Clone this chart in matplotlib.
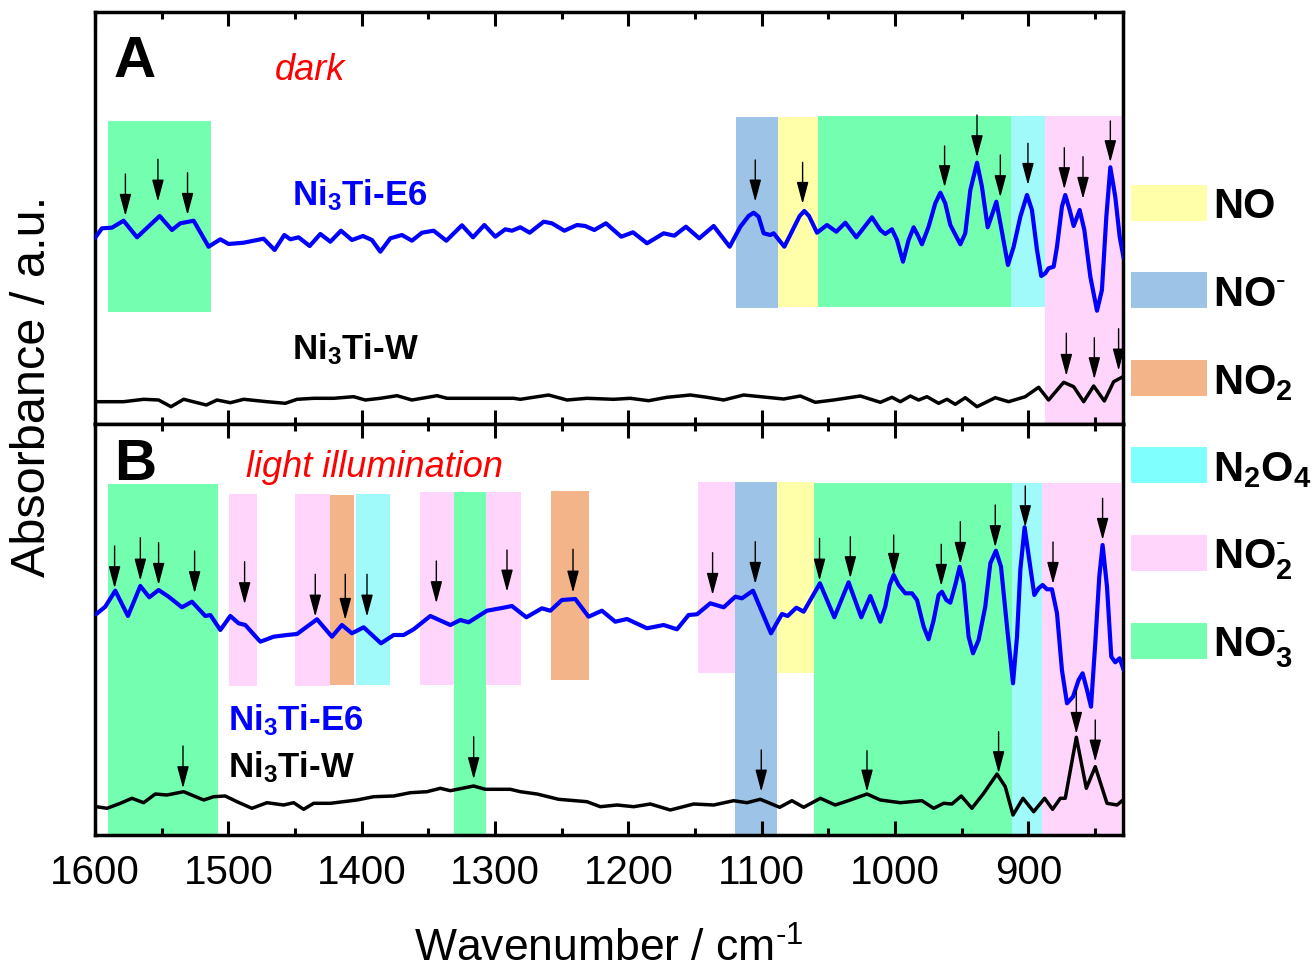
import matplotlib
matplotlib.use("Agg")
import matplotlib.pyplot as plt
from matplotlib.patches import Rectangle
from matplotlib.ticker import MultipleLocator

plt.rcParams["font.family"] = "Liberation Sans"
plt.rcParams["mathtext.fontset"] = "custom"
plt.rcParams["mathtext.rm"] = "Liberation Sans"
plt.rcParams["mathtext.bf"] = "Liberation Sans:bold"
plt.rcParams["mathtext.it"] = "Liberation Sans:italic"

#### spectra (wavenumber in cm-1, absorbance in arbitrary units, offset per panel)

# panel A, dark
a_e6_wn = [1600, 1594.8, 1587.3, 1578.6, 1568.5, 1551.5, 1542.3, 1536, 1526, 1514.8, 1506, 1499.8,
           1488.5, 1473.5, 1465.3, 1458, 1453.5, 1447.3, 1439, 1431, 1423.5, 1415.5, 1407.3, 1399,
           1392.3, 1386, 1378.5, 1369.8, 1362.3, 1354.8, 1346, 1336.5, 1324.8, 1316.5, 1308, 1299.8,
           1292.3, 1287.3, 1281, 1274, 1263.5, 1257.3, 1248, 1238.5, 1232.3, 1225.5, 1216.8, 1205.3,
           1196.5, 1186, 1173.5, 1165.5, 1156.8, 1146.8, 1136, 1124, 1116, 1109.8, 1106, 1102.3,
           1098.5, 1093.5, 1091, 1083, 1071.5, 1068, 1064.5, 1058.5, 1051, 1044, 1037.3, 1029,
           1017.3, 1011, 1007.3, 1002.3, 998.5, 994, 989.8, 986, 983, 979.8, 974.8, 969.8, 966,
           962.3, 958.5, 951, 947.3, 943.5, 938.5, 934.8, 930.5, 927.3, 924, 920.5, 915.3, 911,
           906, 901, 897.3, 893.5, 890.3, 887.3, 884.8, 881, 878.5, 874.8, 872.3, 869, 866,
           861.5, 858, 853.5, 848.5, 844.8, 841.5, 838.5, 834.8, 831.5, 828.5]
a_e6_abs = [186, 195.7, 196.3, 203.3, 186.7, 208, 194, 200.7, 203.3, 177.3, 184.7, 180,
            181.3, 185.3, 174, 189, 184.7, 186.7, 178, 190, 182.3, 193.3, 184, 188,
            184, 172.3, 185.7, 189, 183.3, 191.3, 193.3, 183.3, 198.7, 186.7, 199, 187.3,
            194.7, 193.3, 196.7, 191.3, 202.3, 200.7, 193.3, 199, 198, 194, 200.7, 187.3,
            191.7, 180.7, 190.7, 188.3, 197.3, 185.7, 198, 177.3, 197.3, 208, 211.3, 207.3,
            190.7, 189, 190.7, 177.3, 208, 213, 208, 191.3, 199, 192.3, 201.3, 186.7,
            206.7, 194, 190, 194.7, 184, 162.3, 184, 196.7, 189, 179.7, 197.3, 220.7, 231.3,
            220.7, 199, 179.7, 190.7, 234, 261.3, 237.3, 196.7, 209, 222.3, 197.3, 159, 177.3,
            207.3, 229, 214, 174, 148, 150.7, 155.7, 157.3, 177.3, 217.3, 229, 214, 198,
            214, 194, 147.3, 113.3, 134, 207.3, 256.7, 227.3, 187.3, 165.7]

a_w_wn = [1600, 1578.6, 1563.5, 1552.3, 1543, 1533.5, 1516.5, 1508.5, 1498.5, 1488.5, 1471, 1457.3,
          1448.5, 1436, 1421, 1406, 1397.3, 1386, 1373.5, 1362.3, 1343.5, 1336, 1311, 1286, 1281,
          1259.8, 1246, 1231, 1211, 1198.5, 1184.8, 1171, 1153.5, 1141, 1128.5, 1113.5, 1083.5,
          1071, 1059.8, 1046, 1026, 1011, 1002.3, 996, 988.5, 982.3, 976, 967.3, 961, 954.8,
          947.3, 938.5, 924.8, 914.8, 902.3, 892.3, 884.8, 873.5, 866, 858.5, 851, 843, 836, 829]
a_w_abs = [22.3, 22.3, 24.7, 24, 17.3, 24.7, 19, 24, 21.3, 24.7, 22.3, 20.7,
           24.7, 25.7, 25.7, 27.3, 24, 25.7, 28.3, 24, 28.3, 25.7, 25.7, 25.7, 24.7,
           29, 24, 25.7, 24.7, 25.7, 23.3, 26.7, 29, 26.7, 24, 29, 25,
           28, 21.7, 24, 28, 21.7, 26.7, 22.3, 28, 24, 27.3, 20.7, 24.7, 19.7,
           26.3, 17.3, 26.3, 22.3, 27.3, 36.7, 24, 41.7, 37.3, 22.3, 38, 23, 42.3, 47.3]

# panel B, light illumination
b_e6_wn = [1599, 1592.3, 1584.8, 1575.3, 1566, 1559.3, 1552.3, 1544.8, 1534.8, 1527.3, 1517.3, 1513.5,
           1506, 1498.5, 1492.3, 1487.3, 1476, 1466, 1456, 1448.5, 1433.5, 1422.3, 1414.8, 1407.3,
           1398.5, 1385.5, 1376, 1368.5, 1361, 1348.5, 1333.5, 1326, 1319.8, 1306, 1296, 1287.3,
           1276.5, 1264.8, 1258.5, 1249.8, 1239.8, 1229.8, 1219.8, 1209.8, 1201, 1186, 1173.5,
           1163.5, 1154.8, 1148.5, 1138.5, 1128.5, 1119.8, 1114.8, 1106.5, 1093, 1084.8, 1080.5,
           1074, 1068.5, 1056.3, 1045.5, 1034.8, 1025.3, 1018.5,
           1011, 1007.3, 1004, 1001, 997.3, 992.3, 987.3, 983.5, 978.5, 974.8, 971, 967.3, 964.8,
           961.5, 958.5, 954.8, 951.5, 948.5, 944.8, 941.5, 937.3, 932.3, 928.5, 924.3, 920.5,
           916, 911.5, 908.5, 906, 902.8, 899.3, 895.5, 892.3, 889.3, 886, 882.3, 878.5, 874.8,
           871, 866.5, 862.3, 859.3, 856, 853, 849.8, 846.8, 844.3, 841, 837.8, 834.8, 831.5, 828.5]
b_e6_abs = [221, 228.3, 244.3, 219, 249, 237.7, 245, 238.3, 227.7, 233.3, 219, 220,
            205, 219, 211.7, 210, 193.3, 198.3, 200, 201, 215.7, 198.3, 210, 201.7,
            207.7, 191.7, 200, 200, 205.7, 219, 210, 215, 212.7, 224.3, 226.7, 229,
            217.7, 226.7, 224.3, 235, 236, 218.3, 224.3, 213.3, 216, 206.7, 210,
            205.7, 220, 220.7, 231.7, 227.7, 238.3, 236.7, 244.3, 201.7, 221, 219,
            227.3, 223.3, 251.7, 217.7, 252.7, 217.7, 239,
            213.3, 228.3, 250, 260, 250, 241.7, 241.7, 235, 208.3, 195.7, 215, 240, 243.3,
            235, 232.3, 250, 268.3, 251.7, 198.3, 181.7, 195, 228.3, 271.7, 284.3, 268.3,
            208.3, 151.7, 198.3, 265, 307.7, 275, 240, 246.7, 250, 245.7, 245.7, 221.7, 165,
            131.7, 138.3, 155, 161.7, 145, 128.3, 191.7, 258.3, 290, 248.3, 178.3, 172.7, 176.7, 165]

b_w_wn = [1599, 1591, 1581, 1572.3, 1563.5, 1554.8, 1546, 1533.5, 1518.5, 1511, 1502.3, 1493.5,
          1482.3, 1471, 1458.5, 1451, 1443.5, 1436, 1423.5, 1403.5, 1391, 1376, 1363.5, 1351,
          1341, 1333.5, 1316, 1307.3, 1288.5, 1281, 1268.5, 1252.3, 1231, 1221, 1208.5, 1196,
          1183.5, 1168.5, 1151, 1136, 1121, 1111, 1101, 1086.5, 1077.3, 1068.5, 1056, 1044.8,
          1033.5, 1021, 1011, 996, 979.8, 971, 963.5, 957.3, 950.3, 942.3, 933.5, 923.5, 917.3,
          911.5, 904, 896, 887.8, 881.8, 876, 872.3, 864, 856.5, 849.8, 841, 833.5, 829]
b_w_abs = [28.3, 26.7, 31.7, 36.7, 32.3, 41, 40, 43.3, 35, 38.3, 39, 33.3,
           26.7, 32.3, 30, 32.3, 25.7, 31.7, 31.7, 35, 38.3, 39, 42.3, 43.3,
           46.7, 44.3, 49, 45.7, 45.7, 43.3, 41, 35.7, 33.3, 28.3, 30, 28.3,
           31, 25, 31, 30, 34.3, 32.3, 35.7, 27.7, 34.3, 27.7, 36.7, 30,
           35, 41, 35, 32.3, 34.3, 26.7, 31.7, 31, 39, 26.7, 41.7, 61, 48.3,
           20, 36.7, 23.3, 36.7, 25.7, 36.7, 36.7, 97.7, 46.7, 68.3, 31.7, 30, 35]

#### assignment bands: (high wn, low wn, bottom, top, species)
bands_a = [(1590, 1513, 112, 303, "NO3-"),
           (1119, 1087.5, 116, 307, "NO-"),
           (1087.5, 1057.7, 117, 307, "NO"),
           (1057.7, 912.7, 117, 308, "NO3-"),
           (912.7, 887.5, 117, 308, "N2O4"),
           (887.5, 829, 0, 308, "NO2-")]
bands_b = [(1590.5, 1507.7, 0, 351, "NO3-"),
           (1499.3, 1478.5, 149, 341, "NO2-"),
           (1449.8, 1424, 149, 341, "NO2-"),
           (1424, 1405.5, 150, 340, "NO2"),
           (1404, 1378.5, 150, 341, "N2O4"),
           (1356.5, 1331, 150, 343, "NO2-"),
           (1331, 1306.5, 0, 343, "NO3-"),
           (1306.5, 1280.3, 150, 343, "NO2-"),
           (1258, 1229.8, 155, 344, "NO2"),
           (1148, 1119.8, 162, 353, "NO2-"),
           (1119.8, 1088.5, 0, 353, "NO-"),
           (1088.5, 1061, 162, 353, "NO"),
           (1061, 911.9, 0, 352, "NO3-"),
           (911.9, 889.7, 0, 352, "N2O4"),
           (889.7, 830.5, 0, 352, "NO2-")]

#### arrows: (wavenumber, tail, tip)
arrows_a = [(1577.2, 250, 208), (1552.8, 264.7, 222.3), (1530.6, 251.3, 209),
            (1104.8, 264, 222.3), (1069.3, 261.7, 220), (962.8, 278, 236.7),
            (938.5, 309, 266.7), (921, 269, 226.7), (900.3, 280.7, 239),
            (873, 276.3, 234.7), (859, 267.3, 225), (838.5, 303, 261.7),
            (871.5, 90.7, 48), (850.5, 86.3, 44.7), (832.3, 95.3, 53.3)]
arrows_b = [(1585.3, 289, 246.7), (1566, 297.3, 254.3), (1552.3, 292.3, 250),
            (1525.3, 284, 241.7), (1487.8, 273.3, 230.7), (1434.8, 260.7, 218.3),
            (1412.3, 260.7, 215), (1396, 260.7, 218.3), (1344, 274, 231.7),
            (1291, 285, 243.3), (1241.5, 285.7, 242.3), (1136.8, 282.3, 240),
            (1104.8, 293.3, 251), (1056.6, 296.7, 254.3), (1033.5, 298.3, 256.7),
            (1001, 300, 260), (965.3, 290.7, 249), (951, 313.3, 271),
            (924.8, 330, 287.7), (902.3, 349, 307.7), (881.5, 293, 251),
            (844.3, 336.7, 295),
            (1534, 89, 46.7), (1316, 98.3, 55.7), (1100.3, 85, 43.3),
            (1021, 84.3, 43.3), (922.3, 103.3, 61.7), (864, 145, 101), (849.8, 115, 73.3)]

band_colors = {"NO": "#FFFFAA", "NO-": "#9DC3E6", "NO2": "#F4B48A", "N2O4": "#A0FAFA",
               "NO2-": "#FFD5FB", "NO3-": "#74FFB0"}
legend_labels = ["NO", r"NO$^{\text{-}}$", r"NO$_\mathbf{2}$", r"N$_\mathbf{2}$O$_\mathbf{4}$",
                 r"NO$_\mathbf{2}^{\text{-}}$", r"NO$_\mathbf{3}^{\text{-}}$"]
legend_colors = ["#FFFFAA", "#9DC3E6", "#F4B48A", "#80FFFF", "#FFD5FB", "#74FFB0"]

W, H = 1314, 974


def style_axis(ax, show_labels, ytop):
    ax.set_xlim(1600, 829)
    ax.set_ylim(0, ytop)
    ax.xaxis.set_major_locator(MultipleLocator(100))
    ax.xaxis.set_minor_locator(MultipleLocator(50))
    ax.tick_params(axis="x", which="both", direction="in", top=True, bottom=True,
                   width=2.2, labelsize=29, pad=14, labelbottom=show_labels)
    ax.tick_params(axis="x", which="major", length=10)
    ax.tick_params(axis="x", which="minor", length=5)
    ax.set_yticks([])
    for s in ax.spines.values():
        s.set_linewidth(2.5)


def draw_panel(ax, bands, arrows, e6_wn, e6_abs, w_wn, w_abs):
    for hi, lo, bot, top, key in bands:
        ax.bar(lo, top - bot, width=hi - lo, bottom=bot, align="edge",
               color=band_colors[key], linewidth=0, zorder=1)
    ax.plot(e6_wn, e6_abs, color="#0000FF", lw=3, zorder=3,
            solid_joinstyle="round", solid_capstyle="round")
    ax.plot(w_wn, w_abs, color="black", lw=2.5, zorder=3,
            solid_joinstyle="round", solid_capstyle="round")
    for x, tail, tip in arrows:
        ax.annotate("", xy=(x, tip), xytext=(x, tail), zorder=4,
                    arrowprops=dict(arrowstyle="-|>,head_length=1.35,head_width=0.36",
                                    mutation_scale=10, lw=1.0, color="black",
                                    shrinkA=0, shrinkB=0))


fig = plt.figure(figsize=(W / 100, H / 100), dpi=100)
axA = fig.add_axes([95 / W, 1 - 424 / H, 1028 / W, 412 / H])
axB = fig.add_axes([95 / W, 1 - 835 / H, 1028 / W, 411 / H])

draw_panel(axA, bands_a, arrows_a, a_e6_wn, a_e6_abs, a_w_wn, a_w_abs)
draw_panel(axB, bands_b, arrows_b, b_e6_wn, b_e6_abs, b_w_wn, b_w_abs)
style_axis(axA, False, 412)
style_axis(axB, True, 411)

# panel texts
axA.text(1586, 347, "A", fontsize=42, fontweight="bold", va="baseline", ha="left")
axA.text(1465, 344, "dark", fontsize=26, style="italic", color="#FF0000", va="baseline")
axA.text(1452, 219, r"Ni$_\mathbf{3}$Ti-E6", fontsize=25, fontweight="bold", color="#0000FF", va="baseline")
axA.text(1452, 65, r"Ni$_\mathbf{3}$Ti-W", fontsize=25, fontweight="bold", color="black", va="baseline")

axB.text(1586, 355, "B", fontsize=42, fontweight="bold", va="baseline", ha="left")
axB.text(1487, 358, "light illumination", fontsize=26, style="italic", color="#FF0000", va="baseline")
axB.text(1500, 105, r"Ni$_\mathbf{3}$Ti-E6", fontsize=25, fontweight="bold", color="#0000FF", va="baseline")
axB.text(1500, 58, r"Ni$_\mathbf{3}$Ti-W", fontsize=25, fontweight="bold", color="black", va="baseline")

# axis labels
fig.text(609 / W, 1 - 962 / H, r"Wavenumber / cm$^{\text{-1}}$", fontsize=32, ha="center", va="baseline")
fig.text(33 / W, 1 - 386 / H, "Absorbance / a.u.", fontsize=35, rotation=90, ha="center", va="center")

# species legend on the right
for i, (lab, col) in enumerate(zip(legend_labels, legend_colors)):
    yc = 202.5 + i * 87.6
    fig.patches.append(Rectangle((1131 / W, 1 - (yc + 18) / H), 76 / W, 36 / H,
                                 transform=fig.transFigure, facecolor=col, edgecolor="none"))
    fig.text(1213 / W, 1 - (yc + 16) / H, lab, fontsize=30, fontweight="bold", va="baseline")

fig.savefig("out.png", dpi=100)
